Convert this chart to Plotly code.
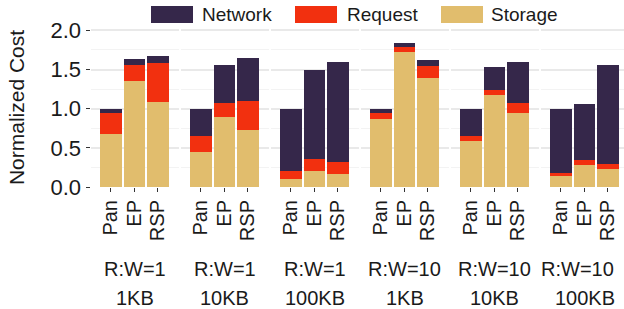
import plotly.graph_objects as go
from plotly.subplots import make_subplots

# ---- data ----
methods = ["Pan", "EP", "RSP"]
ratio_labels = ["R:W=1", "R:W=1", "R:W=1", "R:W=10", "R:W=10", "R:W=10"]
size_labels = ["1KB", "10KB", "100KB", "1KB", "10KB", "100KB"]

storage = [
    [0.673, 1.350, 1.080],
    [0.443, 0.890, 0.724],
    [0.098, 0.200, 0.162],
    [0.865, 1.720, 1.388],
    [0.584, 1.170, 0.940],
    [0.137, 0.277, 0.226],
]
request = [
    [0.267, 0.205, 0.500],
    [0.204, 0.180, 0.371],
    [0.102, 0.154, 0.153],
    [0.075, 0.065, 0.152],
    [0.063, 0.065, 0.130],
    [0.038, 0.064, 0.064],
]
network = [
    [0.060, 0.075, 0.090],
    [0.353, 0.485, 0.550],
    [0.800, 1.134, 1.275],
    [0.060, 0.050, 0.078],
    [0.353, 0.292, 0.520],
    [0.825, 0.715, 1.265],
]
series_names = ["Storage", "Request", "Network"]
colors = {"Network": "#35274A", "Request": "#F2300F", "Storage": "#E1BD6D"}
y_ticks = [0.0, 0.5, 1.0, 1.5, 2.0]
y_tick_text = ["0.0", "0.5", "1.0", "1.5", "2.0"]

# ---- layout geometry (pixels) ----
W, H = 624, 309
M_T, M_B = 28, 122
PH = H - M_T - M_B
FONT = "Liberation Sans, Arial, Helvetica, sans-serif"

n = len(storage)
fig = make_subplots(rows=1, cols=n, shared_yaxes=True)

series_vals = {"Storage": storage, "Request": request, "Network": network}
for g in range(n):
    for s in series_names:
        fig.add_trace(
            go.Bar(
                x=methods,
                y=series_vals[s][g],
                name=s,
                marker=dict(color=colors[s], line=dict(width=0)),
                width=0.93,
                showlegend=False,
            ),
            row=1, col=g + 1,
        )

unit = 23.5          # px per category
panel_w = 88.0
first_left = 90.5
step = 90.0
for g in range(n):
    left = first_left + step * g
    right = min(left + panel_w, W)
    r0 = -0.872
    r1 = r0 + (right - left) / unit
    ax = "xaxis" if g == 0 else f"xaxis{g+1}"
    fig.layout[ax].update(
        domain=[left / W, right / W],
        range=[r0, r1],
        tickmode="array", tickvals=methods, ticktext=methods,
        showgrid=False, zeroline=False, showline=False,
        ticks="outside", ticklen=4, tickwidth=1, tickcolor="#333333",
        tickangle=-90,
        tickfont=dict(family=FONT, size=20, color="#1a1a1a"),
        automargin=False,
        fixedrange=True,
    )
    ay = "yaxis" if g == 0 else f"yaxis{g+1}"
    fig.layout[ay].update(
        range=[0, 2.03],
        tickvals=y_ticks,
        ticktext=y_tick_text,
        showgrid=True, gridcolor="#e9e9e9", gridwidth=1.5,
        minor=dict(dtick=0.25, tick0=0, showgrid=True, gridcolor="#f3f3f3", gridwidth=1),
        zeroline=False, showline=False,
        automargin=False,
        fixedrange=True,
    )
    if g == 0:
        fig.layout[ay].update(
            ticks="outside", ticklen=4, tickwidth=1, tickcolor="#333333",
            tickfont=dict(family=FONT, size=22, color="#1a1a1a"),
            title=dict(text="Normalized Cost", font=dict(family=FONT, size=21, color="#1a1a1a"), standoff=20),
        )
    else:
        fig.layout[ay].update(showticklabels=False, ticks="")

# strip labels below panels
def py2paper(py):
    return (H - M_B - py) / PH

annots = []
for g in range(n):
    cx = first_left + step * g + panel_w / 2
    cx1 = cx
    if g == n - 1:
        cx1 = 577
    annots.append(dict(x=cx1 / W, y=py2paper(268.7), xref="paper", yref="paper",
                       text=ratio_labels[g], showarrow=False, xanchor="center", yanchor="middle",
                       font=dict(family=FONT, size=20, color="#1a1a1a")))
    annots.append(dict(x=cx / W, y=py2paper(297.5), xref="paper", yref="paper",
                       text=size_labels[g], showarrow=False, xanchor="center", yanchor="middle",
                       font=dict(family=FONT, size=20, color="#1a1a1a")))

# custom legend (top)
legend_items = [("Network", 151, 200), ("Request", 295, 345), ("Storage", 441, 489)]
shapes = []
for name, kx, tx in legend_items:
    shapes.append(dict(type="rect", xref="paper", yref="paper",
                       x0=kx / W, x1=(kx + 42) / W, y0=py2paper(23), y1=py2paper(6),
                       fillcolor=colors[name], line=dict(width=0)))
    annots.append(dict(x=tx / W, y=py2paper(14.5), xref="paper", yref="paper",
                       text=name, showarrow=False, xanchor="left", yanchor="middle",
                       font=dict(family=FONT, size=19, color="#1a1a1a")))

fig.update_layout(
    width=W, height=H,
    margin=dict(l=0, r=0, t=M_T, b=M_B),
    barmode="stack",
    plot_bgcolor="white", paper_bgcolor="white",
    showlegend=False,
    annotations=annots,
    shapes=shapes,
    font=dict(family=FONT),
)

fig.write_html(
    "out.html",
    config={"displayModeBar": False},
    post_script="document.body.style.margin='0';document.body.style.overflow='hidden';",
)
